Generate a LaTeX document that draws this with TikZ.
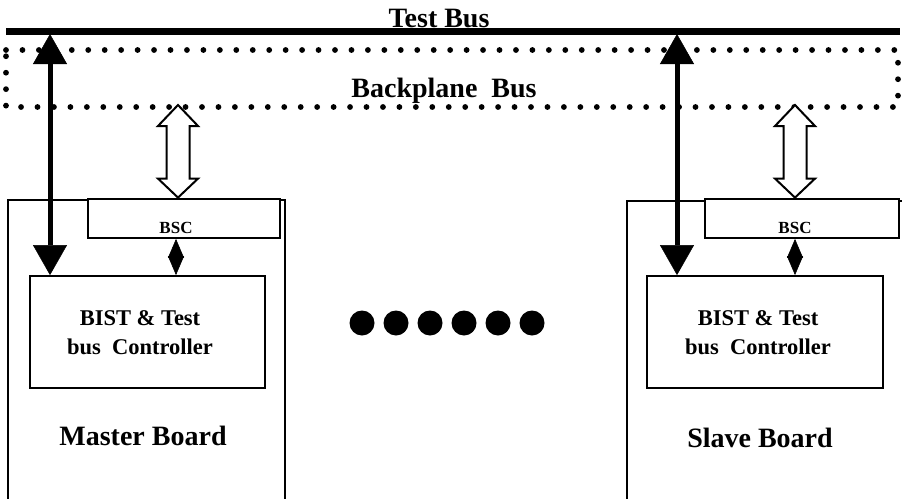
\documentclass[tikz,border=0pt]{standalone}
\usepackage{fontspec}
\setmainfont{Liberation Serif}
\usetikzlibrary{arrows.meta,fit,calc}
\newcommand\hollowlink[2]{%
  \draw[hollowarrow] (#1) -- ($(#1)+(20,21)$) -- ($(#1)+(11.5,21)$)
    -- ($(#2)+(11.5,-19)$) -- ($(#2)+(20,-19)$) -- (#2)
    -- ($(#2)+(-20,-19)$) -- ($(#2)+(-11.5,-19)$)
    -- ($(#1)+(-11.5,21)$) -- ($(#1)+(-20,21)$) -- cycle;}
\begin{document}
\begin{tikzpicture}[x=1pt,y=-1pt,
  board/.style={draw, line width=1.6pt, inner sep=0pt, rectangle},
  unit/.style={draw, fill=white, line width=1.8pt, inner sep=0pt, rectangle},
  bigtxt/.style={font=\fontsize{28pt}{30pt}\selectfont\bfseries, inner sep=0pt},
  midtxt/.style={font=\fontsize{22.5pt}{29pt}\selectfont\bfseries, inner sep=0pt, align=center},
  smalltxt/.style={font=\fontsize{17pt}{18pt}\selectfont\bfseries, inner sep=0pt},
  hollowarrow/.style={draw, fill=white, line width=2pt},
  testlink/.style={line width=5pt,
    {Triangle[length=30pt,width=34pt,line width=0.5pt]}-{Triangle[length=30pt,width=34pt,line width=0.5pt]}},
  bsclink/.style={line width=0.5pt,
    {Triangle[length=19pt,width=16pt,line width=0.5pt]}-{Triangle[length=19pt,width=16pt,line width=0.5pt]}},
  dot/.style={circle, fill=black, minimum size=25pt, inner sep=0pt}
]
\useasboundingbox (0,0) rectangle (902,498);
\clip (0,0) rectangle (902,498);

% buses
\coordinate (tbL) at (6,31.5);
\coordinate (tbR) at (900,31.5);
\draw[line width=7pt] (tbL) -- (tbR);
\node[bigtxt, anchor=base] (tbus) at (439,27) {Test Bus};

\draw[line width=5.8pt, line cap=round, dash pattern=on 0pt off 16.45pt]
  (6,50) -- (898,50) -- (898,107) -- (6,107) -- cycle;
\node[bigtxt, anchor=base] (bpbus) at (444,97) {Backplane~~Bus};

% master board
\node[board, fit={(8,200) (285,530)}] (mboard) {};
\node[unit, fit={(88,199) (280,238)}] (mbsc) {};
\node[smalltxt, anchor=base] (mbsctxt) at (176,233) {BSC};
\node[unit, fit={(30,276) (265,388)}] (mbist) {};
\node[midtxt] (mbisttxt) at (140,333) {BIST \& Test\\bus~~Controller};
\node[bigtxt, anchor=base] (mlabel) at (143,445) {Master Board};

% slave board
\node[board, fit={(627,201) (930,530)}] (sboard) {};
\node[unit, fit={(705,199) (899,238)}] (sbsc) {};
\node[smalltxt, anchor=base] (ssbsctxt) at (795,233) {BSC};
\node[unit, fit={(647,276) (883,388)}] (sbist) {};
\node[midtxt] (sbisttxt) at (758,333) {BIST \& Test\\bus~~Controller};
\node[bigtxt, anchor=base] (slabel) at (760,447) {Slave Board};

% backplane to BSC
\coordinate (mh) at (178,105);
\coordinate (sh) at (795,105);
\coordinate (mhb) at ($(mh |- mbsc.north)+(0,-0.5)$);
\coordinate (shb) at ($(sh |- sbsc.north)+(0,-0.5)$);
\hollowlink{mh}{mhb}
\hollowlink{sh}{shb}

% BSC to controller
\coordinate (mx) at (176,0);
\coordinate (sx) at (795,0);
\draw[bsclink] (mx |- mbsc.south) -- (mx |- mbist.north);
\draw[bsclink] (sx |- sbsc.south) -- (sx |- sbist.north);

% test bus to controller
\coordinate (mt) at (50,34);
\coordinate (st) at (677,34);
\draw[testlink] (mt) -- (mt |- mbist.north);
\draw[testlink] (st) -- (st |- sbist.north);

% further boards
\foreach \i in {0,...,5}
  \node[dot] (more\i) at (362+34*\i,323) {};
\end{tikzpicture}
\end{document}
